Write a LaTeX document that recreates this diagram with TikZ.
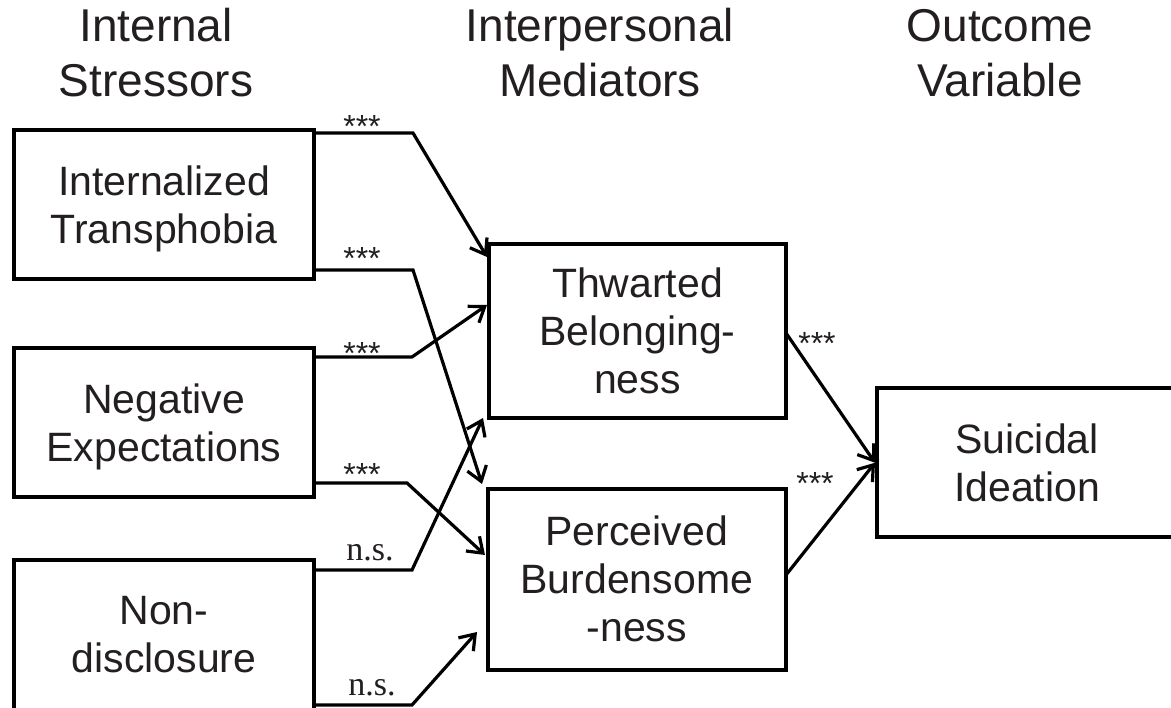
\documentclass[tikz,border=0pt]{standalone}
\usepackage{fontspec}
\setmainfont{Liberation Sans}
\newfontfamily\nsfont{Liberation Serif}
\usetikzlibrary{arrows.meta,calc}
\definecolor{ink}{HTML}{231F20}
\begin{document}
\begin{tikzpicture}[x=1pt,y=-1pt,
  box/.style={draw=black, line width=4pt, outer sep=0pt, inner sep=0pt, align=center, text=ink, font=\fontsize{41}{48}\selectfont},
  head/.style={inner sep=0pt, align=center, text=ink, font=\fontsize{46}{55}\selectfont},
  link/.style={line width=3.2pt, line join=miter, -{Straight Barb[length=14pt,width=20pt,line width=3.2pt]}},
  star/.style={inner sep=0pt, anchor=north, text=ink, font=\fontsize{32}{32}\selectfont},
  nslab/.style={inner sep=0pt, anchor=base, text=ink, font=\nsfont\fontsize{34}{34}\selectfont}]
\clip (0,0) rectangle (1171,708);
\fill[white] (0,0) rectangle (1171,708);

% headers
\node[head] (h1) at (156,53) {Internal\\Stressors};
\node[head] (h2) at (600,53) {Interpersonal\\Mediators};
\node[head] (h3) at (1000,53) {Outcome\\Variable};

% boxes
\node[box, minimum width=300pt, minimum height=149pt] (it) at (164,204.5) {Internalized\\\raisebox{0pt}[\height][0pt]{Transphobia}};
\node[box, minimum width=300pt, minimum height=149pt] (ne) at (164,423) {Negative\\\raisebox{0pt}[\height][0pt]{Expectations}};
\node[box, minimum width=300pt, minimum height=149pt] (nd) at (164,635) {Non-\\disclosure};
\node[box, minimum width=297pt, minimum height=173.5pt] (tb) at (637.5,331.25) {Thwarted\\Belonging-\\ness};
\node[box, minimum width=298.5pt, minimum height=180.5pt] (pb) at (636.75,579.25) {Perceived\\Burdensome\\-ness};
\node[box, minimum width=300pt, minimum height=148.5pt] (si) at (1027,462.75) {Suicidal\\Ideation};

% connectors
\draw[link] ($(it.north east)+(0,3)$) -- ++(99,0) -- ($(tb.north west)+(-2,12.5)$);
\draw[link] ($(it.south east)+(0,-9)$) -- ++(99,0) -- ($(pb.north west)+(-5.5,-5)$);
\draw[link] ($(ne.north east)+(0,8.5)$) -- ++(98,0) -- ($(tb.north west)+(-2,60.5)$);
\draw[link] ($(ne.south east)+(0,-14.5)$) -- ++(93,0) -- ($(pb.north west)+(-2.5,66)$);
\draw[link] ($(nd.north east)+(0,9.5)$) -- ++(98,0) -- ($(tb.south west)+(-6,0)$);
\draw[link] ($(nd.north east)+(0,144.5)$) -- ++(98,0) -- ($(pb.north west)+(-10.5,143)$);
\draw[link] ($(tb.north east)+(0,88.5)$) -- ($(si.west)+(-2,0)$);
\draw[link] ($(pb.north east)+(0,86)$) -- ($(si.west)+(-2,0)$);

% labels
\node[star] (s1) at (362,115) {***};
\node[star] (s2) at (362,247) {***};
\node[star] (s3) at (362,342) {***};
\node[star] (s4) at (362,463) {***};
\node[star] (s7) at (817,332) {***};
\node[star] (s8) at (815,472) {***};
\node[nslab] (n5) at (370,561) {n.s.};
\node[nslab] (n6) at (372,695) {n.s.};
\end{tikzpicture}
\end{document}
